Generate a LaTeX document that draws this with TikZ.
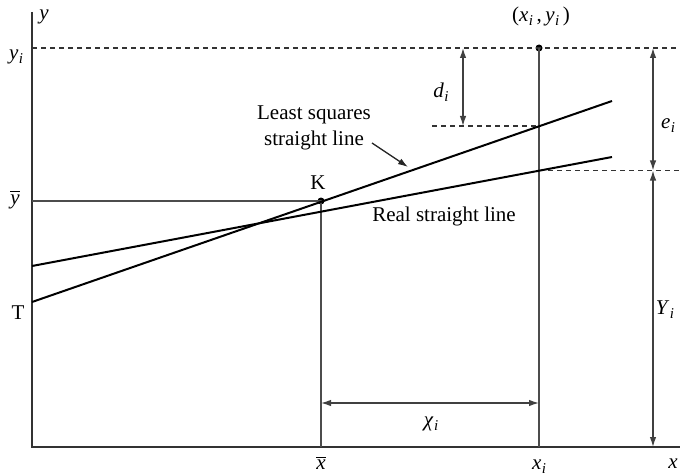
\documentclass[tikz,border=0pt]{standalone}
\usepackage{fontspec}
\setmainfont{Liberation Serif}
\usetikzlibrary{arrows.meta}
\newcommand{\vsub}[2]{\textit{#1}\kern0.5pt\raisebox{-4pt}{\fontsize{15}{18}\selectfont\textit{#2}}}
\newcommand{\barit}[1]{\leavevmode\vbox{\hrule height 1.1pt\kern2pt\hbox{\textit{#1}}}}
\begin{document}
\begin{tikzpicture}[x=1pt,y=-1pt,
  axisline/.style={line width=1.8pt,draw=black!80},
  thinline/.style={line width=1.3pt,draw=black!70},
  regline/.style={line width=2pt,draw=black},
  dashline/.style={line width=1.2pt,draw=black!80,dash pattern=on 5pt off 4pt},
  dimarrow/.style={line width=1.3pt,draw=black!75,{Latex[length=10pt,width=6.5pt]}-{Latex[length=10pt,width=6.5pt]}},
  onearrow/.style={line width=1.3pt,draw=black!85,-{Latex[length=10pt,width=6.5pt]}},
  lbl/.style={inner sep=0pt,font=\fontsize{21}{25}\selectfont},
  dot/.style={circle,fill=black,inner sep=0pt,minimum size=7pt}]
\useasboundingbox (0,0) rectangle (680,476);
% coordinates
\coordinate (O) at (32,447);
\coordinate (Ytop) at (32,12);
\coordinate (Xend) at (680,447);
\coordinate (Yi0) at (32,48);
\coordinate (Yi1) at (680,48);
\coordinate (Yb0) at (32,201);
\coordinate (Xb) at (321,447);
\coordinate (Xi) at (539,447);
\coordinate (A1) at (32,302);
\coordinate (A2) at (612,101);
\coordinate (B1) at (32,266);
\coordinate (B2) at (612,157);
\coordinate (Q) at (539,126);
\coordinate (Qd) at (432,126);
\coordinate (R) at (539,170.5);
\coordinate (Re) at (680,170.5);
\coordinate (D0) at (463,48);
\coordinate (D1) at (463,126);
\coordinate (E0) at (653,48);
\coordinate (E1) at (653,170.5);
\coordinate (E2) at (653,447);
\coordinate (C0) at (321,403);
\coordinate (C1) at (539,403);
\coordinate (L0) at (372,143);
\coordinate (L1) at (408,167);
\node[dot] (K) at (321,201) {};
\node[dot] (P) at (539,48) {};
% axes
\draw[axisline] (Ytop) -- (O) -- (Xend);
% dashed lines
\draw[dashline] (Yi0) -- (Yi1);
\draw[dashline] (Qd) -- (Q);
\draw[dashline] (R) -- (Re);
% thin lines
\draw[thinline] (Yb0) -- (K.center) -- (Xb);
\draw[thinline] (P.center) -- (Xi);
% regression lines
\draw[regline] (A1) -- (A2);
\draw[regline] (B1) -- (B2);
% dimension arrows
\draw[dimarrow] (D0) -- (D1);
\draw[dimarrow] (E0) -- (E1);
\draw[dimarrow] (E1) -- (E2);
\draw[dimarrow] (C0) -- (C1);
\draw[onearrow] (L0) -- (L1);
% labels
\node[lbl] (ly) at (44,17) {\textit{y}};
\node[lbl] (lyi) at (16,57) {\vsub{y}{i}};
\node[lbl] (lyb) at (15,200) {\barit{y}};
\node[lbl] (lT) at (18,313) {T};
\node[lbl] (lK) at (318,183) {K};
\node[lbl] (lxb) at (321,463) {\barit{x}};
\node[lbl] (lxi) at (539,467) {\vsub{x}{i}};
\node[lbl] (lx) at (673,464) {\textit{x}};
\node[lbl] (lP) at (541,16) {(\vsub{x}{i}\,,\,\vsub{y}{i}\,)};
\node[lbl] (ld) at (441,92) {\vsub{d}{i}};
\node[lbl] (le) at (668,126) {\vsub{e}{i}};
\node[lbl] (lY) at (665,310) {\vsub{Y}{i}};
\node[lbl] (lc) at (431,424) {\vsub{χ}{i}};
\node[lbl,align=center,font=\fontsize{21}{26}\selectfont] (lls) at (314,128) {Least squares\\straight line};
\node[lbl] (lreal) at (444,216) {Real straight line};
\end{tikzpicture}
\end{document}
